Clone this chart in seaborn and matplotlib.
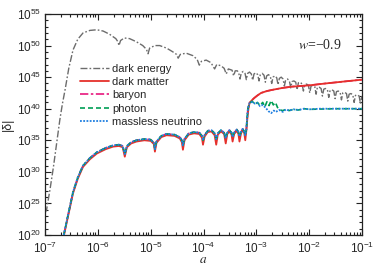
import matplotlib
matplotlib.use("Agg")
import matplotlib.pyplot as plt
from matplotlib.ticker import FixedLocator, LogLocator, FuncFormatter, NullFormatter
import numpy as np
import pandas as pd
import seaborn as sns

# values, stored as log10(a) and log10(|delta|)
de_loga = [-7.00, -6.97, -6.90, -6.84, -6.78, -6.72, -6.67, -6.62, -6.55, -6.47, -6.38, -6.28,
           -6.15, -6.02, -5.90, -5.78, -5.66, -5.62, -5.60, -5.57, -5.50, -5.40, -5.27, -5.15,
           -5.08, -5.05, -5.02, -4.92, -4.83, -4.70, -4.58, -4.51, -4.48, -4.44, -4.33, -4.20,
           -4.12, -4.08, -4.04, -3.95, -3.86, -3.79, -3.75, -3.67, -3.61, -3.57, -3.53, -3.46,
           -3.43, -3.40, -3.36,
           -3.335, -3.31, -3.285, -3.25, -3.215, -3.19, -3.165, -3.13, -3.095, -3.07, -3.045, -3.01,
           -2.975, -2.95, -2.925, -2.89, -2.855, -2.83, -2.805, -2.77, -2.735, -2.71, -2.685, -2.65,
           -2.615, -2.59, -2.565, -2.53, -2.495, -2.47, -2.445, -2.41, -2.375, -2.35, -2.325, -2.29,
           -2.255, -2.23, -2.205, -2.17, -2.135, -2.11, -2.085, -2.05, -2.015, -1.99, -1.965, -1.93,
           -1.895, -1.87, -1.845, -1.81, -1.775, -1.75, -1.725, -1.69, -1.655, -1.63, -1.605, -1.57,
           -1.535, -1.51, -1.485, -1.45, -1.415, -1.39, -1.365, -1.33, -1.295, -1.27, -1.245, -1.21,
           -1.175, -1.15, -1.125, -1.09, -1.055, -1.03, -1.005, -1.00]
de_logd = [23.5, 24.0, 27.5, 30.8, 34.5, 38.2, 40.8, 43.0, 46.4, 49.3, 51.0, 52.0,
           52.4, 52.5, 52.3, 51.8, 51.1, 50.6, 50.0, 50.8, 51.2, 51.1, 50.6, 50.0,
           49.4, 48.7, 49.6, 50.0, 50.0, 49.6, 49.0, 48.6, 48.0, 48.6, 48.8, 48.4,
           47.8, 46.9, 47.5, 47.7, 47.3, 46.3, 47.0, 46.8, 46.4, 45.5, 46.3, 46.1,
           45.2, 46.0, 46.0,
           45.7, 44.7, 45.7, 45.9, 45.6, 44.6, 45.6, 45.8, 45.5, 44.5, 45.5, 45.7,
           45.4, 44.4, 45.4, 45.6, 45.3, 44.2, 45.2, 45.4, 45.1, 44.0, 45.0, 45.2,
           44.9, 43.8, 44.8, 45.0, 44.7, 43.6, 44.6, 44.7, 44.4, 43.3, 44.3, 44.4,
           44.2, 43.0, 44.1, 44.2, 43.9, 42.8, 43.8, 43.9, 43.7, 42.5, 43.6, 43.7,
           43.5, 42.3, 43.4, 43.4, 43.2, 42.0, 43.1, 43.2, 43.0, 41.8, 42.9, 43.0,
           42.8, 41.6, 42.7, 42.8, 42.6, 41.4, 42.5, 42.6, 42.4, 41.2, 42.3, 42.4,
           42.2, 41.0, 42.1, 42.2, 42.0, 40.8, 41.9, 42.0]

dm_loga = [-6.64, -6.55, -6.47, -6.38, -6.28, -6.15, -6.02, -5.85, -5.71, -5.60, -5.53, -5.49,
           -5.45, -5.37, -5.27, -5.12, -5.00, -4.94, -4.92, -4.89, -4.80, -4.70, -4.55, -4.45,
           -4.41, -4.39, -4.36, -4.28, -4.18, -4.08, -4.03, -4.01, -3.98, -3.92, -3.85, -3.79,
           -3.76, -3.73, -3.67, -3.61, -3.58, -3.55, -3.51, -3.47, -3.45, -3.42, -3.37, -3.34,
           -3.32, -3.29, -3.26, -3.23, -3.21, -3.19, -3.17, -3.15, -3.13, -3.09, -3.04, -2.98,
           -2.91, -2.80, -2.69, -2.50, -2.32, -2.00, -1.69, -1.35, -1.00]
dm_logd = [20.0, 23.5, 26.6, 28.9, 30.8, 32.0, 32.9, 33.6, 34.0, 34.1, 33.9, 32.4,
           33.9, 34.5, 34.8, 35.0, 34.9, 34.4, 33.2, 34.6, 35.5, 35.8, 35.7, 35.3,
           34.7, 33.5, 35.0, 35.9, 36.1, 36.0, 35.4, 34.3, 35.6, 36.3, 36.4, 35.8,
           34.3, 35.9, 36.4, 36.0, 34.5, 36.0, 36.4, 35.9, 34.8, 36.0, 36.5, 36.0,
           34.8, 36.1, 36.6, 36.2, 35.0, 36.5, 38.5, 40.0, 40.9, 41.3, 41.7, 42.1,
           42.5, 42.8, 43.0, 43.3, 43.5, 43.7, 44.0, 44.3, 44.6]

# tightly coupled fluid before decoupling (baryon, photon and neutrino overlap here)
early_loga = [-6.645, -6.55, -6.47, -6.38, -6.28, -6.15, -6.02, -5.85, -5.71, -5.60, -5.53, -5.49,
              -5.45, -5.37, -5.27, -5.12, -5.00, -4.94, -4.92, -4.89, -4.80, -4.70, -4.55, -4.45,
              -4.41, -4.39, -4.36, -4.28, -4.18, -4.08, -4.03, -4.01, -3.98, -3.92, -3.85, -3.79,
              -3.76, -3.73, -3.67, -3.61, -3.58, -3.55, -3.51, -3.47, -3.45, -3.42, -3.37, -3.34,
              -3.32, -3.29, -3.26, -3.23, -3.21, -3.19, -3.175, -3.16, -3.13]
early_logd = [20.0, 23.7, 26.8, 29.1, 31.0, 32.2, 33.1, 33.8, 34.2, 34.3, 34.1, 32.8,
              34.1, 34.7, 35.0, 35.2, 35.1, 34.6, 33.6, 34.8, 35.7, 36.0, 35.9, 35.5,
              35.0, 34.2, 35.2, 36.1, 36.3, 36.2, 35.7, 35.0, 35.8, 36.5, 36.6, 36.1,
              35.2, 36.1, 36.6, 36.2, 35.3, 36.2, 36.6, 36.2, 35.5, 36.2, 36.7, 36.3,
              35.6, 36.3, 36.8, 36.4, 35.8, 36.7, 38.5, 40.0, 40.9]

nu_late_loga = [-3.10, -3.07, -3.03, -2.98, -2.93, -2.88, -2.82, -2.77, -2.72, -2.67, -2.63, -2.57,
                -2.50, -2.44, -2.38, -2.30, -2.20, -2.10, -2.00, -1.80, -1.50, -1.20, -1.00]
nu_late_logd = [41.0, 41.1, 40.8, 40.9, 40.4, 40.6, 40.1, 39.6, 39.3, 39.7, 39.5, 39.8,
                39.5, 39.9, 39.7, 39.9, 39.8, 40.0, 39.9, 40.0, 40.0, 40.0, 40.0]

ph_late_loga = [-3.08, -3.03, -2.98, -2.93, -2.88, -2.84, -2.80, -2.76, -2.72, -2.68, -2.64, -2.60,
                -2.55, -2.50, -2.44, -2.38, -2.30, -2.20, -2.10, -2.00, -1.50, -1.00]
ph_late_logd = [41.2, 40.7, 41.0, 40.5, 41.0, 40.3, 41.1, 40.5, 41.3, 40.6, 41.0, 40.2,
                39.8, 39.7, 39.9, 39.7, 39.9, 39.8, 40.0, 39.9, 40.0, 40.0]

b_late_loga = [-3.09, -3.04, -2.98, -2.91, -2.80, -2.69, -2.50, -2.32, -2.00, -1.69, -1.35, -1.00]
b_late_logd = [41.3, 41.7, 42.1, 42.5, 42.8, 43.0, 43.3, 43.5, 43.7, 44.0, 44.3, 44.6]


def frame(loga, logd):
    return pd.DataFrame({"a": 10.0 ** np.array(loga), "delta": 10.0 ** np.array(logd)})


sns.set_theme(style="ticks")
plt.rcParams["font.family"] = ["Liberation Sans", "DejaVu Sans"]
plt.rcParams["mathtext.fontset"] = "stix"

fig = plt.figure(figsize=(3.82, 2.68), dpi=100)
ax = fig.add_axes([0.1178, 0.1231, 0.830, 0.8247])
ax.set_xscale("log")
ax.set_yscale("log")

series = [
    ("dark energy", frame(de_loga, de_logd), "#6c6c6c", (0, (5, 1.5, 1.2, 1.5)), 1.0),
    ("dark matter", frame(dm_loga, dm_logd), "#e5302b", "-", 1.3),
    ("baryon", frame(early_loga + b_late_loga, early_logd + b_late_logd), "#e8177d", (0, (5, 1.5, 1.5, 1.5)), 1.2),
    ("photon", frame(early_loga + ph_late_loga, early_logd + ph_late_logd), "#009e55", (0, (3, 1.8)), 1.2),
    ("massless neutrino", frame(early_loga + nu_late_loga, early_logd + nu_late_logd), "#1f7fe0", (0, (1, 0.8)), 1.3),
]
zorders = {"dark energy": 2, "dark matter": 4, "baryon": 3, "photon": 5, "massless neutrino": 6}
for name, df, color, ls, lw in series:
    sns.lineplot(data=df, x="a", y="delta", ax=ax, color=color, linestyle=ls, lw=lw,
                 estimator=None, sort=False, label=name, zorder=zorders[name])

ax.set_xlim(1e-7, 1e-1)
ax.set_ylim(1e20, 1e55)
ax.xaxis.set_major_locator(FixedLocator(10.0 ** np.arange(-7, 0)))
ax.xaxis.set_minor_locator(LogLocator(base=10, subs=np.arange(2, 10), numticks=20))
ax.yaxis.set_major_locator(FixedLocator(10.0 ** np.arange(20, 56, 5)))
ax.yaxis.set_minor_locator(FixedLocator(10.0 ** np.arange(20, 56)))
fmt = FuncFormatter(lambda v, _: "$\\mathregular{10^{%d}}$" % int(round(np.log10(v))))
ax.xaxis.set_major_formatter(fmt)
ax.yaxis.set_major_formatter(fmt)
ax.xaxis.set_minor_formatter(NullFormatter())
ax.yaxis.set_minor_formatter(NullFormatter())
ax.tick_params(which="both", direction="in", top=True, right=True, labelsize=8.5, width=0.8, color="#222222")
ax.tick_params(which="major", length=4, pad=3)
ax.tick_params(axis="x", which="major", pad=4)
ax.tick_params(which="minor", length=2)
for s in ax.spines.values():
    s.set_linewidth(0.9)
    s.set_color("#222222")

ax.set_xlabel("$a$", fontsize=9.5, labelpad=-1)
ax.set_ylabel("|δ|", fontsize=9, labelpad=2)
ax.text(0.935, 0.86, "$w$=−0.9", transform=ax.transAxes, ha="right", va="center",
        fontsize=10, family="Liberation Serif")

ax.legend(loc="upper left", bbox_to_anchor=(0.11, 0.775), frameon=False, fontsize=8,
          handlelength=2.6, handletextpad=0.3, labelspacing=0.3, borderaxespad=0, borderpad=0)

fig.savefig("out.png", dpi=100)
